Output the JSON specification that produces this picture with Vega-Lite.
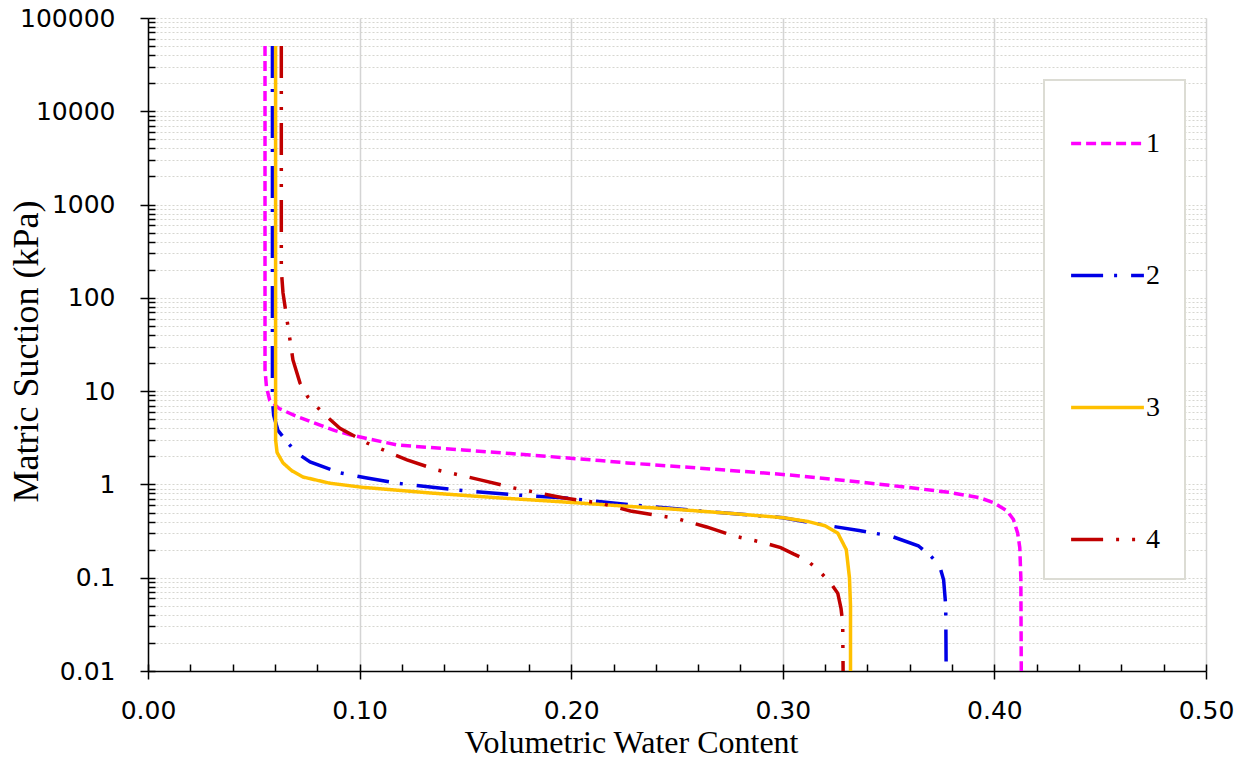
{
  "$schema": "https://vega.github.io/schema/vega-lite/v6.json",
  "width": 1058,
  "height": 653,
  "autosize": {"type": "none"},
  "padding": {"left": 148, "top": 18, "right": 39, "bottom": 92},
  "background": "white",
  "config": {
    "view": {"stroke": null},
    "axis": {
      "domainColor": "black", "domainWidth": 1.5,
      "tickColor": "black", "tickWidth": 1.5,
      "labelFont": "DejaVu Sans", "labelFontSize": 25, "labelColor": "black", "labelFlush": false,
      "titleFont": "Liberation Serif", "titleFontSize": 32, "titleFontWeight": "normal", "titleColor": "black"
    },
    "legend": {
      "orient": "none", "legendX": 896, "legendY": 62,
      "symbolType": "stroke", "symbolSize": 5300, "symbolStrokeWidth": 3.5,
      "labelFont": "Liberation Serif", "labelFontSize": 28, "labelColor": "black", "labelOffset": 0,
      "padding": 25, "rowPadding": 79,
      "fillColor": "white", "strokeColor": "#dcdcd4", "strokeWidth": 2
    }
  },
  "datasets": {
    "curves": [
      {"series":"1","theta":0.0553,"suction":50000,"i":0},
      {"series":"1","theta":0.0553,"suction":17,"i":1},
      {"series":"1","theta":0.0560,"suction":11,"i":2},
      {"series":"1","theta":0.0575,"suction":8.0,"i":3},
      {"series":"1","theta":0.0620,"suction":6.5,"i":4},
      {"series":"1","theta":0.0700,"suction":5.4,"i":5},
      {"series":"1","theta":0.0780,"suction":4.6,"i":6},
      {"series":"1","theta":0.0880,"suction":3.8,"i":7},
      {"series":"1","theta":0.0955,"suction":3.4,"i":8},
      {"series":"1","theta":0.1177,"suction":2.65,"i":9},
      {"series":"1","theta":0.1489,"suction":2.34,"i":10},
      {"series":"1","theta":0.1805,"suction":2.07,"i":11},
      {"series":"1","theta":0.2136,"suction":1.80,"i":12},
      {"series":"1","theta":0.2264,"suction":1.70,"i":13},
      {"series":"1","theta":0.2600,"suction":1.50,"i":14},
      {"series":"1","theta":0.3000,"suction":1.28,"i":15},
      {"series":"1","theta":0.3300,"suction":1.10,"i":16},
      {"series":"1","theta":0.3554,"suction":0.95,"i":17},
      {"series":"1","theta":0.3790,"suction":0.82,"i":18},
      {"series":"1","theta":0.3930,"suction":0.72,"i":19},
      {"series":"1","theta":0.3995,"suction":0.64,"i":20},
      {"series":"1","theta":0.4060,"suction":0.52,"i":21},
      {"series":"1","theta":0.4090,"suction":0.42,"i":22},
      {"series":"1","theta":0.4110,"suction":0.30,"i":23},
      {"series":"1","theta":0.4120,"suction":0.21,"i":24},
      {"series":"1","theta":0.4125,"suction":0.10,"i":25},
      {"series":"1","theta":0.4127,"suction":0.01,"i":26},

      {"series":"2","theta":0.0588,"suction":50000,"i":0},
      {"series":"2","theta":0.0588,"suction":8,"i":1},
      {"series":"2","theta":0.0594,"suction":5.5,"i":2},
      {"series":"2","theta":0.0614,"suction":3.8,"i":3},
      {"series":"2","theta":0.0660,"suction":2.8,"i":4},
      {"series":"2","theta":0.0704,"suction":2.17,"i":5},
      {"series":"2","theta":0.0766,"suction":1.74,"i":6},
      {"series":"2","theta":0.0907,"suction":1.33,"i":7},
      {"series":"2","theta":0.1035,"suction":1.17,"i":8},
      {"series":"2","theta":0.1177,"suction":1.03,"i":9},
      {"series":"2","theta":0.1460,"suction":0.87,"i":10},
      {"series":"2","theta":0.1744,"suction":0.77,"i":11},
      {"series":"2","theta":0.1960,"suction":0.72,"i":12},
      {"series":"2","theta":0.2300,"suction":0.60,"i":13},
      {"series":"2","theta":0.2700,"suction":0.50,"i":14},
      {"series":"2","theta":0.3000,"suction":0.44,"i":15},
      {"series":"2","theta":0.3100,"suction":0.40,"i":16},
      {"series":"2","theta":0.3220,"suction":0.36,"i":17},
      {"series":"2","theta":0.3360,"suction":0.32,"i":18},
      {"series":"2","theta":0.3510,"suction":0.28,"i":19},
      {"series":"2","theta":0.3640,"suction":0.22,"i":20},
      {"series":"2","theta":0.3700,"suction":0.17,"i":21},
      {"series":"2","theta":0.3740,"suction":0.137,"i":22},
      {"series":"2","theta":0.3760,"suction":0.095,"i":23},
      {"series":"2","theta":0.3770,"suction":0.05,"i":24},
      {"series":"2","theta":0.3772,"suction":0.01,"i":25},

      {"series":"3","theta":0.0603,"suction":50000,"i":0},
      {"series":"3","theta":0.0603,"suction":3.0,"i":1},
      {"series":"3","theta":0.0610,"suction":2.2,"i":2},
      {"series":"3","theta":0.0638,"suction":1.7,"i":3},
      {"series":"3","theta":0.0680,"suction":1.4,"i":4},
      {"series":"3","theta":0.0733,"suction":1.2,"i":5},
      {"series":"3","theta":0.0860,"suction":1.03,"i":6},
      {"series":"3","theta":0.1016,"suction":0.93,"i":7},
      {"series":"3","theta":0.1333,"suction":0.81,"i":8},
      {"series":"3","theta":0.1650,"suction":0.72,"i":9},
      {"series":"3","theta":0.1960,"suction":0.65,"i":10},
      {"series":"3","theta":0.2280,"suction":0.58,"i":11},
      {"series":"3","theta":0.2450,"suction":0.55,"i":12},
      {"series":"3","theta":0.2750,"suction":0.49,"i":13},
      {"series":"3","theta":0.3000,"suction":0.44,"i":14},
      {"series":"3","theta":0.3120,"suction":0.40,"i":15},
      {"series":"3","theta":0.3200,"suction":0.36,"i":16},
      {"series":"3","theta":0.3260,"suction":0.30,"i":17},
      {"series":"3","theta":0.3300,"suction":0.20,"i":18},
      {"series":"3","theta":0.3315,"suction":0.10,"i":19},
      {"series":"3","theta":0.3320,"suction":0.05,"i":20},
      {"series":"3","theta":0.3320,"suction":0.01,"i":21},

      {"series":"4","theta":0.0630,"suction":50000,"i":0},
      {"series":"4","theta":0.0630,"suction":200,"i":1},
      {"series":"4","theta":0.0638,"suction":113,"i":2},
      {"series":"4","theta":0.0657,"suction":58,"i":3},
      {"series":"4","theta":0.0685,"suction":21.6,"i":4},
      {"series":"4","theta":0.0718,"suction":12.3,"i":5},
      {"series":"4","theta":0.0756,"suction":8.6,"i":6},
      {"series":"4","theta":0.0827,"suction":5.8,"i":7},
      {"series":"4","theta":0.0907,"suction":4.0,"i":8},
      {"series":"4","theta":0.1035,"suction":2.78,"i":9},
      {"series":"4","theta":0.1224,"suction":1.83,"i":10},
      {"series":"4","theta":0.1366,"suction":1.43,"i":11},
      {"series":"4","theta":0.1570,"suction":1.12,"i":12},
      {"series":"4","theta":0.1725,"suction":0.92,"i":13},
      {"series":"4","theta":0.1960,"suction":0.72,"i":14},
      {"series":"4","theta":0.2136,"suction":0.63,"i":15},
      {"series":"4","theta":0.2280,"suction":0.52,"i":16},
      {"series":"4","theta":0.2500,"suction":0.43,"i":17},
      {"series":"4","theta":0.2640,"suction":0.35,"i":18},
      {"series":"4","theta":0.2770,"suction":0.28,"i":19},
      {"series":"4","theta":0.2900,"suction":0.24,"i":20},
      {"series":"4","theta":0.2990,"suction":0.21,"i":21},
      {"series":"4","theta":0.3050,"suction":0.18,"i":22},
      {"series":"4","theta":0.3110,"suction":0.156,"i":23},
      {"series":"4","theta":0.3170,"suction":0.12,"i":24},
      {"series":"4","theta":0.3230,"suction":0.085,"i":25},
      {"series":"4","theta":0.3260,"suction":0.068,"i":26},
      {"series":"4","theta":0.3275,"suction":0.047,"i":27},
      {"series":"4","theta":0.3283,"suction":0.033,"i":28},
      {"series":"4","theta":0.3285,"suction":0.01,"i":29}
    ]
  },
  "data": {"name": "curves"},
  "resolve": {"axis": {"x": "independent", "y": "independent"}},
  "layer": [
    {
      "mark": {"type": "line", "strokeOpacity": 0, "clip": true},
      "encoding": {
        "x": {
          "field": "theta", "type": "quantitative",
          "scale": {"domain": [0, 0.5], "nice": false, "zero": false},
          "axis": {
            "orient": "bottom", "title": null, "labels": false, "domain": false, "grid": false,
            "tickSize": -7,
            "values": [0, 0.02, 0.04, 0.06, 0.08, 0.1, 0.12, 0.14, 0.16, 0.18, 0.2, 0.22, 0.24, 0.26, 0.28, 0.3, 0.32, 0.34, 0.36, 0.38, 0.4, 0.42, 0.44, 0.46, 0.48, 0.5]
          }
        },
        "y": {
          "field": "suction", "type": "quantitative",
          "scale": {"type": "log", "domain": [0.01, 100000], "nice": false},
          "axis": {
            "orient": "left", "title": null, "labels": false, "domain": false,
            "grid": true, "gridColor": "#d6d6d0", "gridDash": [2, 2], "gridWidth": 1.2,
            "tickSize": -7,
            "values": [0.01,0.02,0.03,0.04,0.05,0.06,0.07,0.08,0.09,
                       0.1,0.2,0.3,0.4,0.5,0.6,0.7,0.8,0.9,
                       1,2,3,4,5,6,7,8,9,
                       10,20,30,40,50,60,70,80,90,
                       100,200,300,400,500,600,700,800,900,
                       1000,2000,3000,4000,5000,6000,7000,8000,9000,
                       10000,20000,30000,40000,50000,60000,70000,80000,90000,
                       100000]
          }
        },
        "detail": {"field": "series", "type": "nominal"},
        "order": {"field": "i", "type": "quantitative"}
      }
    },
    {
      "mark": {"type": "line", "strokeWidth": 3.5, "clip": true},
      "encoding": {
        "x": {
          "field": "theta", "type": "quantitative",
          "scale": {"domain": [0, 0.5], "nice": false, "zero": false},
          "axis": {
            "orient": "bottom", "title": "Volumetric Water Content",
            "values": [0, 0.1, 0.2, 0.3, 0.4, 0.5], "format": ".2f",
            "tickSize": 8, "labelPadding": 19,
            "grid": true, "gridColor": "#d4d4d4", "gridWidth": 1.5,
            "titleX": 483, "titleY": 81, "titleAlign": "center", "titleBaseline": "alphabetic"
          }
        },
        "y": {
          "field": "suction", "type": "quantitative",
          "scale": {"type": "log", "domain": [0.01, 100000], "nice": false},
          "axis": {
            "orient": "left", "title": "Matric Suction (kPa)",
            "values": [0.01, 0.1, 1, 10, 100, 1000, 10000, 100000],
            "labelExpr": "format(datum.value, '~g')",
            "tickSize": 8, "labelPadding": 25, "grid": false,
            "titleFontSize": 36, "titleAngle": -90, "titleX": -122, "titleY": 333,
            "titleAlign": "center", "titleBaseline": "middle"
          }
        },
        "color": {
          "field": "series", "type": "nominal",
          "scale": {"domain": ["1", "2", "3", "4"], "range": ["#FF00FF", "#0000E6", "#FFC000", "#C00000"]},
          "legend": {"title": null}
        },
        "strokeDash": {
          "field": "series", "type": "nominal",
          "scale": {"domain": ["1", "2", "3", "4"], "range": [[10, 5], [32, 11, 3, 14], [1, 0], [32, 13, 3, 13, 3, 13]]},
          "legend": {"title": null}
        },
        "order": {"field": "i", "type": "quantitative"}
      }
    }
  ]
}
